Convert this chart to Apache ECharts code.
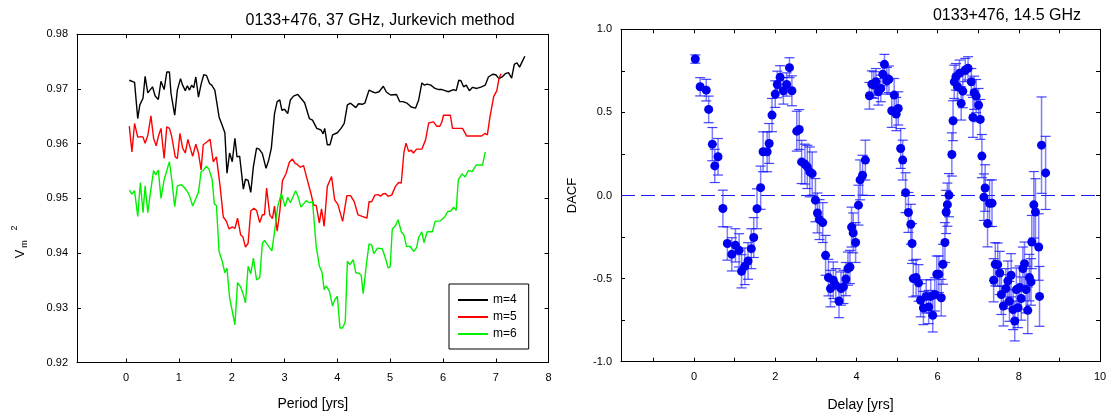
<!DOCTYPE html>
<html>
<head>
<meta charset="utf-8">
<script src="https://cdn.jsdelivr.net/npm/echarts@6.0.0/dist/echarts.min.js"></script>
<style>
html,body{margin:0;padding:0;background:#fff;}
#c{width:1115px;height:412px;}
</style>
</head>
<body>
<div id="c"></div>
<script>
// ---------- Left panel: Jurkevich V_m^2 vs period ----------
const periodM4 = [0.06,0.16,0.22,0.26,0.32,0.36,0.41,0.50,0.55,0.61,0.66,0.72,0.77,0.82,0.85,0.92,0.97,1.03,1.07,1.12,1.16,1.20,1.24,1.28,1.32,1.37,1.42,1.47,1.52,1.58,1.62,1.68,1.76,1.81,1.87,1.91,1.96,2.01,2.06,2.10,2.15,2.22,2.26,2.31,2.36,2.41,2.47,2.52,2.58,2.65,2.70,2.75,2.81,2.86,2.91,2.95,3.00,3.06,3.11,3.17,3.25,3.31,3.38,3.47,3.53,3.61,3.69,3.73,3.76,3.81,3.86,3.91,4.00,4.07,4.13,4.19,4.25,4.35,4.40,4.47,4.52,4.60,4.66,4.72,4.79,4.87,4.93,5.01,5.12,5.18,5.24,5.32,5.40,5.48,5.54,5.60,5.65,5.70,5.77,5.85,5.92,5.98,6.04,6.10,6.20,6.25,6.30,6.34,6.39,6.44,6.50,6.56,6.64,6.73,6.80,6.86,6.94,7.00,7.06,7.12,7.18,7.24,7.30,7.35,7.40,7.45,7.50,7.55];
const vM4 = [0.9716,0.9712,0.9646,0.9671,0.9683,0.9723,0.9693,0.9704,0.9687,0.9681,0.9714,0.9699,0.9731,0.9731,0.9692,0.9652,0.9698,0.9719,0.9707,0.9697,0.9706,0.9698,0.9707,0.9702,0.9722,0.9685,0.9709,0.9726,0.9725,0.9710,0.9707,0.9698,0.9649,0.9636,0.9620,0.9546,0.9583,0.9567,0.9610,0.9576,0.9577,0.9517,0.9535,0.9533,0.9511,0.9558,0.9592,0.9590,0.9582,0.9555,0.9570,0.9592,0.9655,0.9677,0.9680,0.9661,0.9663,0.9655,0.9680,0.9687,0.9690,0.9683,0.9675,0.9646,0.9643,0.9628,0.9625,0.9618,0.9628,0.9598,0.9598,0.9616,0.9620,0.9628,0.9637,0.9671,0.9674,0.9666,0.9673,0.9672,0.9674,0.9698,0.9695,0.9693,0.9695,0.9705,0.9694,0.9689,0.9690,0.9677,0.9677,0.9674,0.9667,0.9665,0.9680,0.9711,0.9707,0.9709,0.9707,0.9701,0.9699,0.9699,0.9697,0.9695,0.9699,0.9697,0.9716,0.9715,0.9704,0.9707,0.9697,0.9703,0.9701,0.9704,0.9707,0.9722,0.9727,0.9726,0.9719,0.9722,0.9728,0.9730,0.9720,0.9745,0.9748,0.9740,0.9750,0.9760];

const periodM5 = [0.06,0.11,0.16,0.22,0.28,0.32,0.36,0.41,0.47,0.52,0.57,0.61,0.66,0.72,0.77,0.82,0.86,0.93,0.97,1.02,1.07,1.12,1.17,1.22,1.26,1.32,1.37,1.42,1.46,1.54,1.59,1.65,1.71,1.78,1.84,1.90,1.95,2.01,2.06,2.11,2.17,2.21,2.26,2.31,2.36,2.42,2.47,2.53,2.58,2.62,2.66,2.72,2.77,2.81,2.86,2.91,2.96,3.03,3.09,3.15,3.20,3.24,3.30,3.36,3.42,3.50,3.55,3.60,3.66,3.70,3.75,3.81,3.89,3.95,4.01,4.10,4.18,4.25,4.32,4.39,4.47,4.56,4.60,4.65,4.71,4.77,4.82,4.86,4.91,4.96,5.03,5.10,5.16,5.21,5.26,5.30,5.35,5.40,5.44,5.50,5.60,5.67,5.73,5.82,5.88,5.94,5.98,6.01,6.14,6.18,6.37,6.45,6.73,6.80,6.84,6.89,6.96,7.02,7.06,7.10];
const vM5 = [0.9632,0.9585,0.9637,0.9612,0.9613,0.9612,0.9601,0.9615,0.9651,0.9610,0.9596,0.9613,0.9628,0.9573,0.9631,0.9628,0.9615,0.9576,0.9573,0.9619,0.9592,0.9583,0.9608,0.9590,0.9577,0.9599,0.9583,0.9552,0.9598,0.9604,0.9608,0.9567,0.9576,0.9522,0.9466,0.9458,0.9444,0.9448,0.9445,0.9464,0.9433,0.9430,0.9411,0.9418,0.9477,0.9482,0.9478,0.9456,0.9470,0.9470,0.9519,0.9470,0.9463,0.9486,0.9440,0.9476,0.9532,0.9546,0.9566,0.9572,0.9564,0.9562,0.9557,0.9560,0.9538,0.9509,0.9488,0.9487,0.9455,0.9481,0.9449,0.9522,0.9540,0.9497,0.9489,0.9458,0.9505,0.9505,0.9494,0.9470,0.9467,0.9464,0.9494,0.9494,0.9506,0.9507,0.9504,0.9508,0.9509,0.9504,0.9506,0.9522,0.9529,0.9528,0.9584,0.9601,0.9586,0.9588,0.9583,0.9590,0.9590,0.9607,0.9638,0.9640,0.9632,0.9632,0.9640,0.9652,0.9652,0.9628,0.9628,0.9614,0.9614,0.9619,0.9616,0.9649,0.9686,0.9697,0.9719,0.9728];

const periodM6 = [0.06,0.11,0.16,0.22,0.27,0.32,0.36,0.41,0.46,0.52,0.56,0.61,0.66,0.72,0.77,0.82,0.87,0.92,0.97,1.05,1.10,1.15,1.20,1.26,1.37,1.42,1.46,1.52,1.57,1.63,1.67,1.71,1.76,1.82,1.87,1.91,1.96,2.01,2.06,2.11,2.17,2.22,2.26,2.31,2.36,2.41,2.47,2.53,2.58,2.62,2.68,2.76,2.83,2.87,2.94,3.01,3.06,3.11,3.21,3.25,3.31,3.41,3.47,3.53,3.60,3.66,3.71,3.75,3.79,3.85,3.91,3.95,4.00,4.05,4.10,4.15,4.19,4.24,4.30,4.35,4.41,4.45,4.49,4.55,4.60,4.65,4.69,4.76,4.85,4.91,4.96,5.00,5.04,5.10,5.15,5.21,5.26,5.31,5.38,5.45,5.50,5.54,5.60,5.64,5.70,5.80,5.85,5.95,6.04,6.09,6.15,6.20,6.25,6.29,6.36,6.42,6.48,6.55,6.63,6.75,6.80];
const vM6 = [0.9515,0.9508,0.9514,0.9467,0.9529,0.9474,0.9523,0.9474,0.9510,0.9551,0.9543,0.9552,0.9500,0.9534,0.9551,0.9567,0.9530,0.9485,0.9523,0.9525,0.9520,0.9514,0.9505,0.9486,0.9511,0.9549,0.9551,0.9559,0.9553,0.9534,0.9490,0.9487,0.9403,0.9385,0.9364,0.9372,0.9318,0.9294,0.9269,0.9346,0.9338,0.9324,0.9309,0.9376,0.9362,0.9391,0.9351,0.9355,0.9418,0.9423,0.9415,0.9404,0.9453,0.9485,0.9509,0.9485,0.9502,0.9492,0.9514,0.9505,0.9484,0.9496,0.9492,0.9494,0.9412,0.9376,0.9365,0.9333,0.9340,0.9330,0.9303,0.9315,0.9321,0.9263,0.9263,0.9275,0.9385,0.9379,0.9388,0.9364,0.9363,0.9360,0.9326,0.9380,0.9417,0.9415,0.9399,0.9409,0.9408,0.9391,0.9373,0.9375,0.9444,0.9450,0.9461,0.9439,0.9433,0.9412,0.9412,0.9403,0.9410,0.9429,0.9439,0.9419,0.9439,0.9439,0.9458,0.9459,0.9467,0.9476,0.9477,0.9484,0.9478,0.9534,0.9545,0.9539,0.9551,0.9549,0.9561,0.9561,0.9585];

const leftXRange = [-0.93, 8];
const leftYRange = [0.92, 0.98];
const leftXTicks = [0,1,2,3,4,5,6,7,8];
const leftYTicks = [0.93,0.94,0.95,0.96,0.97];
const leftYLabels = [0.92,0.93,0.94,0.95,0.96,0.97,0.98];

// ---------- Right panel: DACF vs delay ----------
const delay = [0.03,0.15,0.30,0.36,0.45,0.51,0.59,0.71,0.82,0.93,1.02,1.11,1.17,1.25,1.33,1.41,1.47,1.55,1.64,1.70,1.80,1.85,1.92,2.00,2.05,2.12,2.20,2.28,2.35,2.41,2.53,2.59,2.65,2.73,2.79,2.85,2.91,2.99,3.04,3.09,3.17,3.24,3.31,3.36,3.43,3.49,3.57,3.62,3.68,3.74,3.79,3.84,3.88,3.92,3.98,4.05,4.09,4.15,4.22,4.32,4.38,4.43,4.48,4.54,4.60,4.65,4.69,4.75,4.80,4.87,4.93,4.98,5.03,5.09,5.14,5.21,5.28,5.34,5.37,5.40,5.47,5.53,5.58,5.65,5.72,5.78,5.83,5.88,5.93,5.98,6.03,6.09,6.13,6.18,6.21,6.24,6.28,6.35,6.38,6.41,6.45,6.49,6.54,6.58,6.62,6.68,6.75,6.83,6.87,6.90,6.95,7.01,7.05,7.09,7.14,7.17,7.23,7.28,7.34,7.38,7.42,7.48,7.53,7.57,7.62,7.68,7.73,7.77,7.81,7.86,7.90,7.94,7.98,8.02,8.06,8.10,8.14,8.18,8.22,8.26,8.30,8.32,8.37,8.41,8.49,8.51,8.56,8.66];
const dacf = [0.821,0.654,0.634,0.518,0.309,0.178,0.233,-0.078,-0.289,-0.354,-0.300,-0.330,-0.456,-0.426,-0.394,-0.320,-0.253,-0.080,0.047,0.263,0.263,0.313,0.484,0.610,0.668,0.711,0.630,0.668,0.769,0.630,0.387,0.397,0.202,0.189,0.172,0.142,0.132,-0.028,-0.105,-0.145,-0.163,-0.360,-0.494,-0.560,-0.510,-0.540,-0.635,-0.560,-0.550,-0.503,-0.440,-0.430,-0.190,-0.225,-0.283,-0.058,0.094,0.122,0.213,0.600,0.670,0.665,0.684,0.624,0.644,0.730,0.789,0.690,0.699,0.510,0.604,0.490,0.524,0.283,0.213,0.017,-0.102,-0.173,-0.289,-0.500,-0.494,-0.526,-0.630,-0.677,-0.607,-0.671,-0.607,-0.721,-0.595,-0.474,-0.474,-0.615,-0.414,-0.283,-0.099,-0.055,0.002,0.247,0.450,0.684,0.714,0.654,0.735,0.554,0.628,0.755,0.765,0.684,0.470,0.618,0.598,0.544,0.458,0.237,-0.010,0.045,-0.169,-0.047,-0.046,-0.510,-0.414,-0.416,-0.466,-0.596,-0.665,-0.560,-0.514,-0.637,-0.480,-0.687,-0.755,-0.566,-0.675,-0.554,-0.620,-0.440,-0.410,-0.566,-0.691,-0.494,-0.520,-0.280,-0.056,-0.099,-0.310,-0.607,0.303,0.136];
const dacfErr = [0.025,0.055,0.065,0.080,0.100,0.100,0.110,0.110,0.100,0.100,0.100,0.100,0.100,0.110,0.110,0.120,0.120,0.120,0.130,0.120,0.120,0.120,0.100,0.080,0.080,0.070,0.080,0.070,0.060,0.090,0.120,0.120,0.130,0.120,0.130,0.150,0.130,0.130,0.120,0.120,0.120,0.120,0.110,0.110,0.110,0.100,0.100,0.100,0.100,0.100,0.100,0.100,0.120,0.120,0.120,0.120,0.120,0.120,0.120,0.080,0.080,0.080,0.080,0.080,0.080,0.070,0.060,0.080,0.080,0.100,0.100,0.100,0.100,0.120,0.120,0.120,0.120,0.120,0.120,0.110,0.110,0.110,0.100,0.100,0.100,0.100,0.100,0.100,0.100,0.110,0.110,0.110,0.120,0.120,0.130,0.130,0.130,0.130,0.120,0.100,0.080,0.080,0.080,0.100,0.100,0.070,0.070,0.080,0.120,0.100,0.100,0.100,0.120,0.130,0.140,0.140,0.140,0.140,0.140,0.130,0.130,0.130,0.130,0.120,0.120,0.120,0.120,0.120,0.130,0.120,0.120,0.130,0.120,0.130,0.130,0.130,0.130,0.140,0.140,0.140,0.140,0.160,0.200,0.200,0.200,0.180,0.290,0.220];

const rightXRange = [-1.8, 10];
const rightYRange = [-1, 1];
const rightXTicks = [-1,0,1,2,3,4,5,6,7,8,9];
const rightXLabels = [0,2,4,6,8,10];
const rightYTicks = [-0.75,-0.5,-0.25,0,0.25,0.5,0.75];
const rightYLabels = [-1,-0.5,0,0.5,1];
const zeroLevel = 0;

// ---------- build ----------
const FONT = 'Liberation Sans, Arial, sans-serif';
const pairs = (xs, ys) => xs.map((x, i) => [x, ys[i]]);
const axisLine = {show: true, onZero: false, lineStyle: {color: '#000', width: 1}};

function xAx(grid, pos, range, ticks, labels, name, gap) {
  return {
    type: 'value', gridIndex: grid, position: pos, min: range[0], max: range[1],
    axisLine: axisLine,
    axisTick: {show: true, inside: true, length: 4, customValues: ticks, lineStyle: {color: '#000'}},
    axisLabel: labels ? {show: true, customValues: labels, color: '#000', fontSize: 11, fontFamily: FONT, margin: 10} : {show: false},
    splitLine: {show: false},
    name: name || '', nameLocation: 'middle', nameGap: gap || 0,
    nameTextStyle: {color: '#000', fontSize: 14, fontFamily: FONT}
  };
}
function yAx(grid, pos, range, ticks, labels, digits, name, gap) {
  return {
    type: 'value', gridIndex: grid, position: pos, min: range[0], max: range[1],
    axisLine: axisLine,
    axisTick: {show: true, inside: true, length: 4, customValues: ticks, lineStyle: {color: '#000'}},
    axisLabel: labels ? {show: true, customValues: labels, color: '#000', fontSize: 11, fontFamily: FONT, margin: 9,
      formatter: v => Number(v).toFixed(digits)} : {show: false},
    splitLine: {show: false},
    name: name || '', nameLocation: 'middle', nameGap: gap || 0,
    nameTextStyle: {color: '#000', fontSize: 13, fontFamily: FONT}
  };
}

const errData = delay.map((d, i) => [d, dacf[i], dacfErr[i]]);

const option = {
  animation: false,
  backgroundColor: '#fff',
  grid: [
    {left: 77, top: 34.3, width: 471.6, height: 328.2, containLabel: false, outerBoundsMode: 'none'},
    {left: 621, top: 29.3, width: 479, height: 332.4, containLabel: false, outerBoundsMode: 'none'}
  ],
  xAxis: [
    xAx(0, 'bottom', leftXRange, leftXTicks, leftXTicks, 'Period [yrs]', 35),
    xAx(0, 'top', leftXRange, leftXTicks, null),
    xAx(1, 'bottom', rightXRange, rightXTicks, rightXLabels, 'Delay [yrs]', 36),
    xAx(1, 'top', rightXRange, rightXTicks, null)
  ],
  yAxis: [
    yAx(0, 'left', leftYRange, leftYTicks, leftYLabels, 2),
    yAx(0, 'right', leftYRange, leftYTicks, null),
    yAx(1, 'left', rightYRange, rightYTicks, rightYLabels, 1, 'DACF', 42),
    yAx(1, 'right', rightYRange, rightYTicks, null)
  ],
  legend: {
    data: ['m=4', 'm=5', 'm=6'],
    left: 449, top: 284, orient: 'vertical',
    icon: 'rect',
    itemWidth: 30, itemHeight: 2, itemGap: 3, itemTextGap: 9,
    padding: [9, 12, 8, 9],
    borderColor: '#000', borderWidth: 1, backgroundColor: '#fff',
    textStyle: {color: '#000', fontSize: 12, fontFamily: FONT, lineHeight: 14}
  },
  graphic: [
    {type: 'text', x: 380, y: 21, style: {text: '0133+476, 37 GHz, Jurkevich method', fill: '#000', font: '16px ' + FONT, textAlign: 'center', textVerticalAlign: 'middle'}},
    {type: 'text', x: 1007, y: 16, style: {text: '0133+476, 14.5 GHz', fill: '#000', font: '16px ' + FONT, textAlign: 'center', textVerticalAlign: 'middle'}},
    {type: 'text', x: 20, y: 254, rotation: Math.PI / 2, style: {text: 'V', fill: '#000', font: '13px ' + FONT, textAlign: 'center', textVerticalAlign: 'middle'}},
    {type: 'text', x: 25, y: 244, rotation: Math.PI / 2, style: {text: 'm', fill: '#000', font: '9px ' + FONT, textAlign: 'center', textVerticalAlign: 'middle'}},
    {type: 'text', x: 15, y: 228, rotation: Math.PI / 2, style: {text: '2', fill: '#000', font: '9px ' + FONT, textAlign: 'center', textVerticalAlign: 'middle'}}
  ],
  series: [
    {name: 'm=4', type: 'line', xAxisIndex: 0, yAxisIndex: 0, data: pairs(periodM4, vM4), symbol: 'none', color: '#000', lineStyle: {color: '#000', width: 1.4}},
    {name: 'm=5', type: 'line', xAxisIndex: 0, yAxisIndex: 0, data: pairs(periodM5, vM5), symbol: 'none', color: '#ff0000', lineStyle: {color: '#ff0000', width: 1.4}},
    {name: 'm=6', type: 'line', xAxisIndex: 0, yAxisIndex: 0, data: pairs(periodM6, vM6), symbol: 'none', color: '#00f000', lineStyle: {color: '#00f000', width: 1.4}},
    {
      name: 'zero', type: 'line', xAxisIndex: 2, yAxisIndex: 2, z: 1, silent: true,
      data: rightXRange.map(x => [x, zeroLevel]), symbol: 'none', color: '#1a1aff',
      lineStyle: {color: '#1a1aff', type: [14, 6], width: 1.2}
    },
    {
      name: 'err', type: 'custom', xAxisIndex: 2, yAxisIndex: 2, data: errData, z: 2,
      renderItem: function (params, api) {
        const x = api.value(0), y = api.value(1), e = api.value(2);
        const lo = api.coord([x, y - e]);
        const hi = api.coord([x, y + e]);
        const w = 5;
        const bar = {stroke: 'rgba(40,40,255,0.6)', lineWidth: 1.5};
        const cap = {stroke: 'rgba(20,20,255,0.8)', lineWidth: 1.2};
        return {type: 'group', children: [
          {type: 'line', shape: {x1: lo[0], y1: lo[1], x2: hi[0], y2: hi[1]}, style: bar},
          {type: 'line', shape: {x1: lo[0] - w, y1: lo[1], x2: lo[0] + w, y2: lo[1]}, style: cap},
          {type: 'line', shape: {x1: hi[0] - w, y1: hi[1], x2: hi[0] + w, y2: hi[1]}, style: cap}
        ]};
      }
    },
    {
      name: 'DACF', type: 'scatter', xAxisIndex: 2, yAxisIndex: 2, data: pairs(delay, dacf), z: 3,
      symbol: 'circle', symbolSize: 9, itemStyle: {color: '#0000ee', opacity: 1}
    }
  ]
};

const chart = echarts.init(document.getElementById('c'), null, {renderer: 'canvas'});
chart.setOption(option);
</script>
</body>
</html>
